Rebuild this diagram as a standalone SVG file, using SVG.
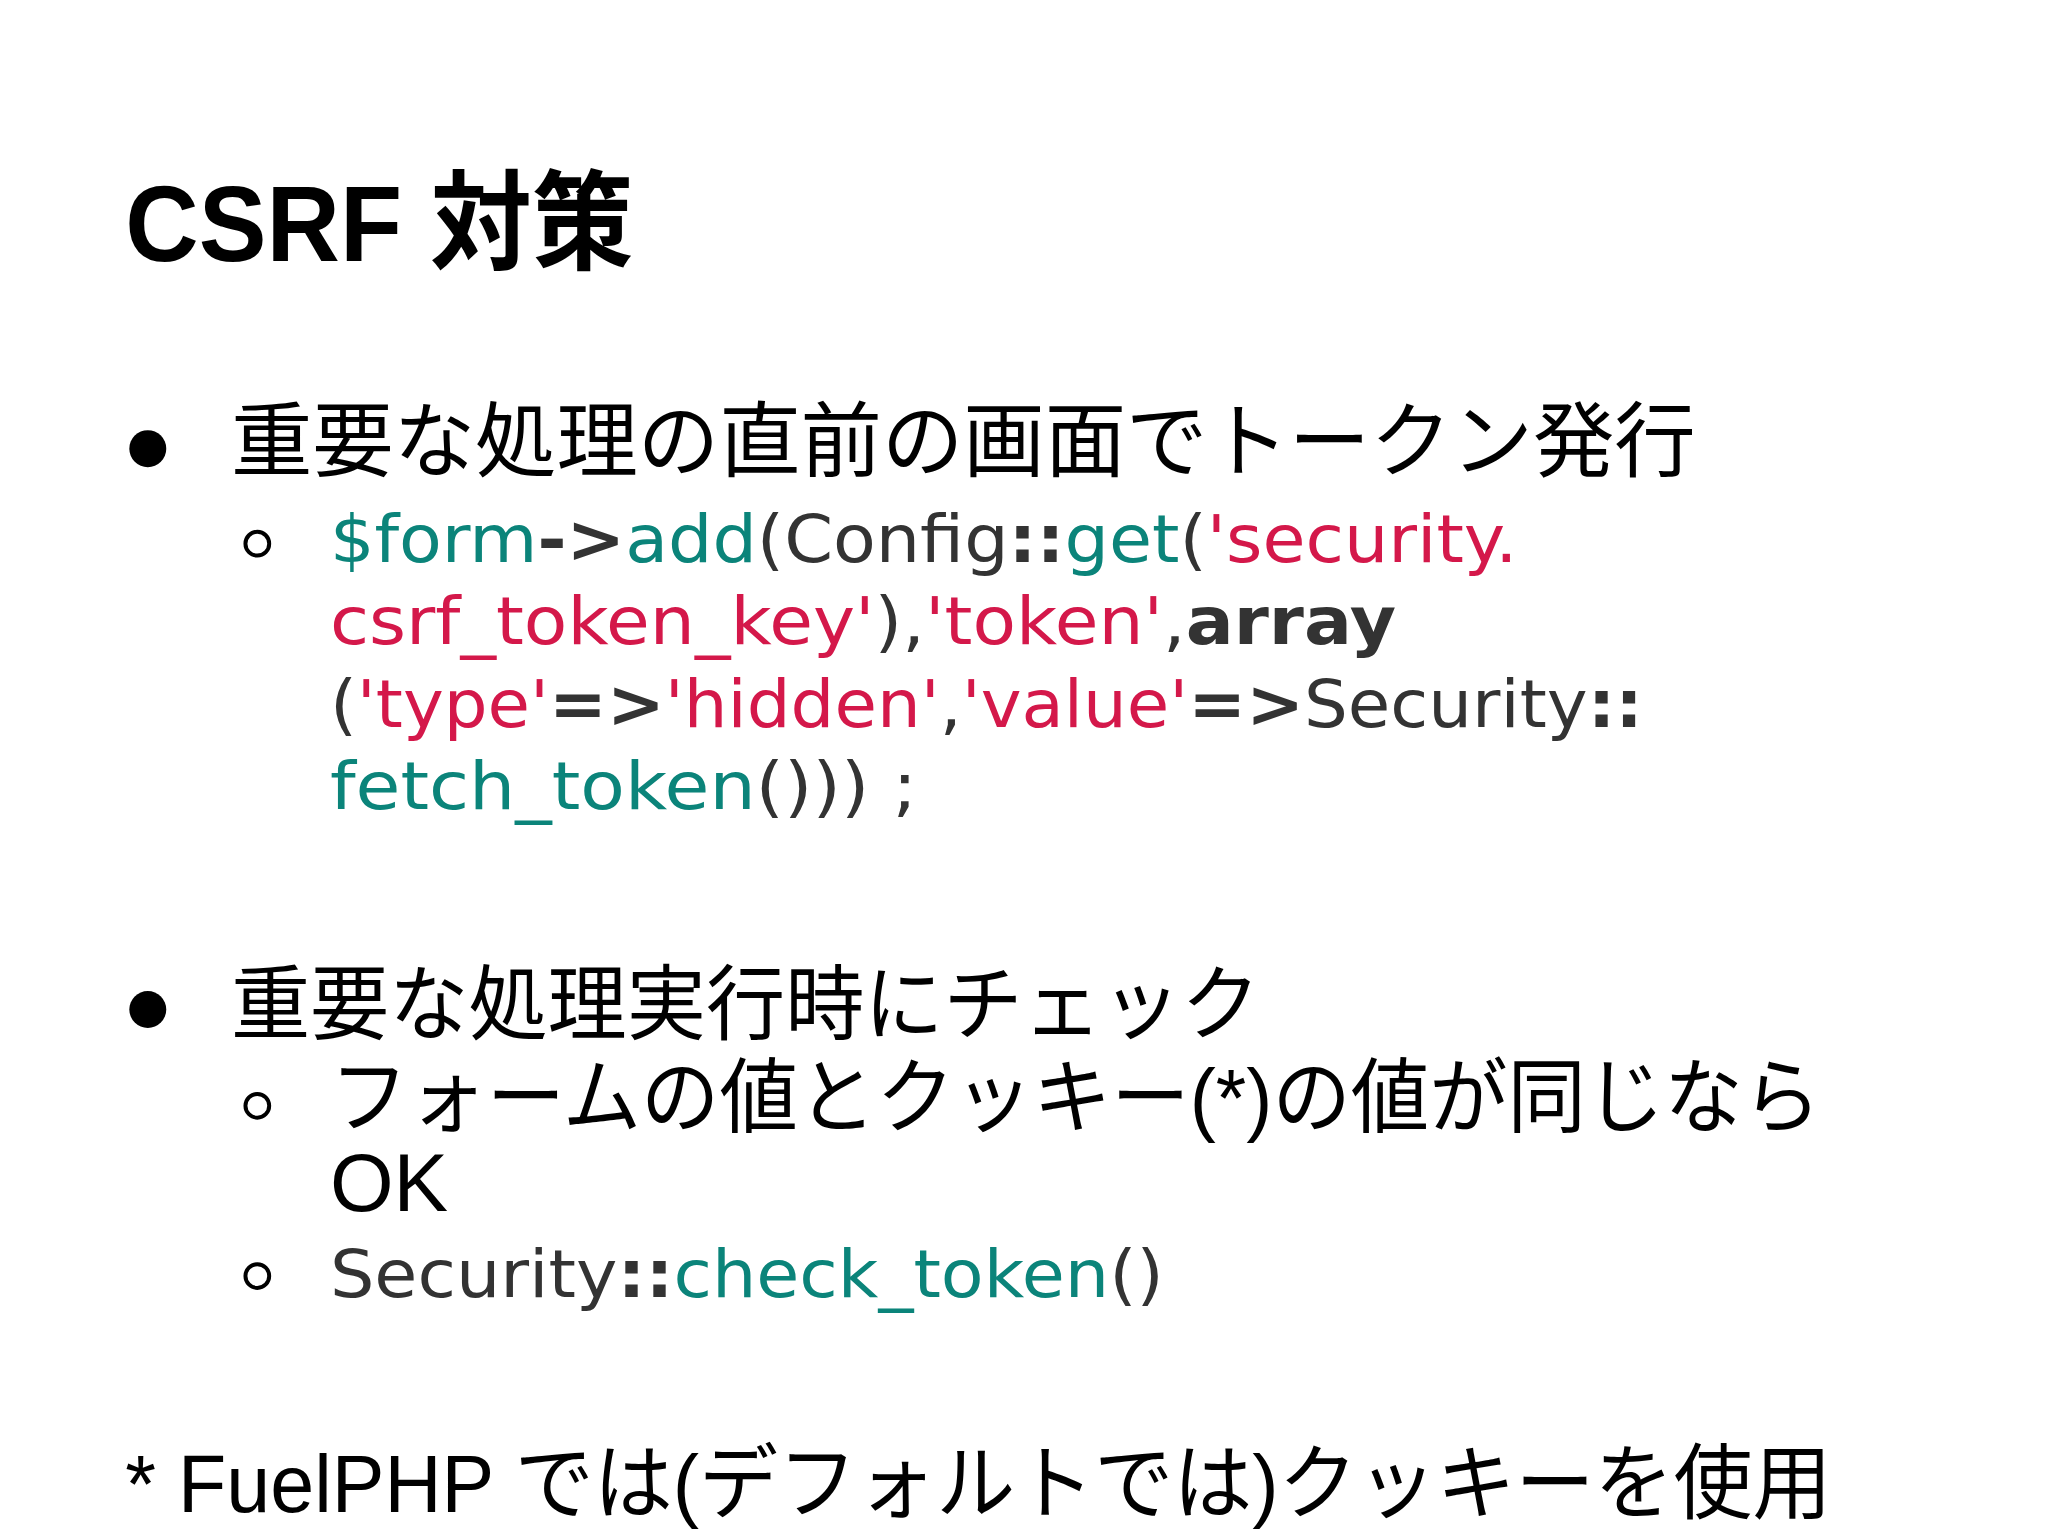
<svg xmlns="http://www.w3.org/2000/svg" width="2048" height="1536" viewBox="0 0 2048 1536">
<style>
.t{font-family:"Liberation Sans","Noto Sans CJK JP",sans-serif;fill:#000}
.c{font-family:"DejaVu Sans","Noto Sans CJK JP",sans-serif;font-size:50px;fill:#333}
.g{fill:#0b847a}.r{fill:#d4184a}.b{font-weight:bold;fill:#333}
</style>
<rect width="2048" height="1536" fill="#fff"/>
<g transform="scale(1.31959)">
<g id="title"><text class="t" x="95" y="198" font-size="82" font-weight="bold" textLength="385" lengthAdjust="spacingAndGlyphs">CSRF 対策</text></g>
<g id="bullet1">
<circle cx="112" cy="340" r="14" fill="#000"/>
<text class="t" x="175" y="356" font-size="62" textLength="1110" lengthAdjust="spacingAndGlyphs">重要な処理の直前の画面でトークン発行</text>
<circle cx="195" cy="412" r="9" fill="none" stroke="#000" stroke-width="3"/>
<text class="c" x="250" y="426" textLength="900" lengthAdjust="spacingAndGlyphs"><tspan class="g">$form</tspan><tspan class="b">-&gt;</tspan><tspan class="g">add</tspan>(Config<tspan class="b">::</tspan><tspan class="g">get</tspan>(<tspan class="r">'security.</tspan></text>
<text class="c" x="250" y="488" textLength="808" lengthAdjust="spacingAndGlyphs"><tspan class="r">csrf_token_key'</tspan>),<tspan class="r">'token'</tspan>,<tspan class="b">array</tspan></text>
<text class="c" x="250" y="551" textLength="995" lengthAdjust="spacingAndGlyphs">(<tspan class="r">'type'</tspan><tspan class="b">=&gt;</tspan><tspan class="r">'hidden'</tspan>,<tspan class="r">'value'</tspan><tspan class="b">=&gt;</tspan>Security<tspan class="b">::</tspan></text>
<text class="c" x="250" y="613" textLength="445" lengthAdjust="spacingAndGlyphs"><tspan class="g">fetch_token</tspan>())) ;</text>
</g>
<g id="bullet2">
<circle cx="112" cy="765" r="14" fill="#000"/>
<text class="t" x="175" y="783" font-size="62" textLength="780" lengthAdjust="spacingAndGlyphs">重要な処理実行時にチェック</text>
<circle cx="195" cy="838" r="9" fill="none" stroke="#000" stroke-width="3"/>
<text class="t" x="250" y="853" font-size="62" textLength="1130" lengthAdjust="spacingAndGlyphs">フォームの値とクッキー(*)の値が同じなら</text>
<text class="t" x="250" y="918" font-size="62">OK</text>
<circle cx="195" cy="967" r="9" fill="none" stroke="#000" stroke-width="3"/>
<text class="c" x="250" y="983" textLength="632" lengthAdjust="spacingAndGlyphs">Security<tspan class="b">::</tspan><tspan class="g">check_token</tspan>()</text>
</g>
<g id="footnote"><text class="t" x="95" y="1146" font-size="62" textLength="1293" lengthAdjust="spacingAndGlyphs">* FuelPHP では(デフォルトでは)クッキーを使用</text></g>
</g>
</svg>
